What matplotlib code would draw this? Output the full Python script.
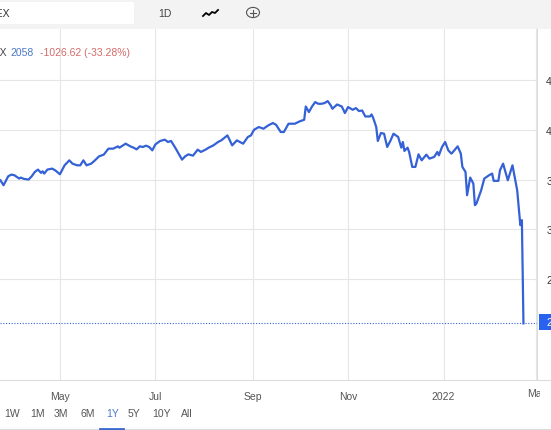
import numpy as np
import pandas as pd
import matplotlib
matplotlib.use("Agg")
import matplotlib.pyplot as plt
import matplotlib.dates as mdates
from matplotlib.patches import Rectangle, Circle
from matplotlib.lines import Line2D
from matplotlib.transforms import Bbox, blended_transform_factory

plt.rcParams['font.family'] = ['Liberation Sans', 'DejaVu Sans']

# index values (IMOEX, 1Y view)
dates = ["2021-03-24", "2021-03-26", "2021-03-29", "2021-03-31", "2021-04-02", "2021-04-05",
         "2021-04-06", "2021-04-08", "2021-04-11", "2021-04-13", "2021-04-15", "2021-04-17",
         "2021-04-19", "2021-04-20", "2021-04-21", "2021-04-23", "2021-04-26", "2021-04-28",
         "2021-05-01", "2021-05-04", "2021-05-07", "2021-05-09", "2021-05-12", "2021-05-14",
         "2021-05-16", "2021-05-18", "2021-05-21", "2021-05-23", "2021-05-26", "2021-05-29",
         "2021-06-01", "2021-06-04", "2021-06-07", "2021-06-08", "2021-06-12", "2021-06-15",
         "2021-06-17", "2021-06-19", "2021-06-21", "2021-06-23", "2021-06-25", "2021-06-27",
         "2021-06-29", "2021-07-01", "2021-07-04", "2021-07-07", "2021-07-09", "2021-07-11",
         "2021-07-14", "2021-07-18", "2021-07-20", "2021-07-22", "2021-07-25", "2021-07-28",
         "2021-07-30", "2021-08-02", "2021-08-04", "2021-08-07", "2021-08-10", "2021-08-12",
         "2021-08-16", "2021-08-19", "2021-08-22", "2021-08-26", "2021-08-29", "2021-08-31",
         "2021-09-02", "2021-09-05", "2021-09-08", "2021-09-11", "2021-09-14", "2021-09-16",
         "2021-09-19", "2021-09-21", "2021-09-24", "2021-09-28", "2021-10-01", "2021-10-04",
         "2021-10-05", "2021-10-07", "2021-10-09", "2021-10-11", "2021-10-13", "2021-10-15",
         "2021-10-17", "2021-10-19", "2021-10-21", "2021-10-22", "2021-10-25", "2021-10-28",
         "2021-10-30", "2021-11-01", "2021-11-04", "2021-11-06", "2021-11-08", "2021-11-10",
         "2021-11-12", "2021-11-15", "2021-11-16", "2021-11-17", "2021-11-19", "2021-11-20",
         "2021-11-22", "2021-11-24", "2021-11-26", "2021-11-28", "2021-11-30", "2021-12-03",
         "2021-12-05", "2021-12-06", "2021-12-07", "2021-12-09", "2021-12-10", "2021-12-12",
         "2021-12-14", "2021-12-16", "2021-12-18", "2021-12-21", "2021-12-23", "2021-12-26",
         "2021-12-28", "2021-12-29", "2021-12-31", "2022-01-02", "2022-01-04", "2022-01-06",
         "2022-01-07", "2022-01-10", "2022-01-12", "2022-01-13", "2022-01-15", "2022-01-16",
         "2022-01-18", "2022-01-20", "2022-01-21", "2022-01-22", "2022-01-25", "2022-01-27",
         "2022-01-30", "2022-02-01", "2022-02-02", "2022-02-05", "2022-02-06", "2022-02-08",
         "2022-02-11", "2022-02-14", "2022-02-17", "2022-02-19", "2022-02-20", "2022-02-21"]
values = [3493, 3443, 3533, 3550, 3543, 3510,
          3520, 3507, 3500, 3533, 3577, 3600,
          3567, 3583, 3560, 3600, 3610, 3593,
          3553, 3643, 3693, 3660, 3643, 3643,
          3693, 3643, 3660, 3687, 3733, 3750,
          3810, 3810, 3833, 3820, 3860, 3833,
          3820, 3803, 3833, 3827, 3840, 3827,
          3793, 3853, 3887, 3900, 3877, 3887,
          3810, 3700, 3733, 3753, 3740, 3800,
          3777, 3800, 3820, 3843, 3877, 3893,
          3943, 3843, 3893, 3860, 3927, 3943,
          4000, 4027, 4010, 4043, 4067, 4050,
          3977, 3977, 4060, 4060, 4083, 4100,
          4233, 4177, 4233, 4277, 4260, 4260,
          4267, 4287, 4243, 4210, 4253, 4233,
          4167, 4227, 4200, 4217, 4187, 4193,
          4133, 4133, 4153, 4120, 4027, 3887,
          3967, 3960, 3827, 3887, 3960, 3927,
          3820, 3877, 3787, 3820, 3777, 3627,
          3627, 3753, 3693, 3750, 3710, 3727,
          3777, 3743, 3827, 3877, 3793, 3760,
          3777, 3833, 3760, 3627, 3577, 3343,
          3520, 3460, 3243, 3260, 3393, 3510,
          3543, 3560, 3487, 3487, 3593, 3660,
          3493, 3643, 3393, 3043, 3093, 2058]

ticker = "IMOEX"
last_value = "2058"
change_text = "-1026.62 (-33.28%)"
y_ticks = [2500, 3000, 3500, 4000, 4500]
month_ticks = ["2021-05-01", "2021-07-01", "2021-09-01", "2021-11-01", "2022-01-01", "2022-03-01"]
month_labels = ["May", "Jul", "Sep", "Nov", "2022", "Mar"]
ranges = ["1W", "1M", "3M", "6M", "1Y", "5Y", "10Y", "All"]

W, H = 551, 431
LINE = '#3461d6'
GRID = '#e6e6e6'
TXT = '#555555'


def fx(x):
    return x / W


def fy(y):
    return 1 - y / H


fig = plt.figure(figsize=(W / 100, H / 100), dpi=100)
fig.patch.set_facecolor('white')

ax = fig.add_axes([0, fy(381), fx(536.5), (381 - 30) / H])
d = pd.to_datetime(dates)
ax.plot(d, values, color=LINE, lw=1.6, solid_joinstyle='round', zorder=3)
ax.axhline(values[-1], color=LINE, lw=0.8, ls=(0, (1, 1.5)), zorder=2)

ax.set_xlim(pd.Timestamp("2021-03-23 18:00"), pd.Timestamp("2022-03-01 08:00"))
ax.set_ylim(1490, 5010)
ax.set_xticks(pd.to_datetime(month_ticks))
ax.set_xticklabels(month_labels[:-1] + [""])
ax.set_yticks(y_ticks)
ax.set_yticklabels([str(v) for v in y_ticks])
ax.yaxis.tick_right()
ax.tick_params(axis='both', length=0, labelsize=7.5, labelcolor=TXT)
ax.tick_params(axis='x', pad=8)
ax.tick_params(axis='y', pad=7, labelcolor='#333333')
for lab in ax.get_yticklabels():
    lab.set_horizontalalignment('left')
ax.grid(True, color=GRID, lw=0.8)
for s in ['top', 'left', 'bottom']:
    ax.spines[s].set_visible(False)
ax.spines['right'].set_color('#dcdcdc')
ax.spines['right'].set_linewidth(0.8)

# Mar label sits under the price scale edge, partly hidden
tr = blended_transform_factory(ax.transData, fig.transFigure)
mar = fig.text(mdates.date2num(pd.Timestamp(month_ticks[-1])), fy(394), month_labels[-1],
               transform=tr, ha='center', va='center', fontsize=7.5, color=TXT)
mar.set_clip_on(True)
mar.set_clip_box(Bbox([[0, 0], [540, H]]))

# toolbar strip
fig.add_artist(Rectangle((0, fy(30)), 1, 30 / H, transform=fig.transFigure,
                         facecolor='#f3f3f3', edgecolor='none', zorder=0))
fig.add_artist(Rectangle((fx(-2), fy(25)), fx(136), 22 / H, transform=fig.transFigure,
                         facecolor='white', edgecolor='none', zorder=1))
fig.text(fx(9.5), fy(14), ticker, ha='right', va='center', fontsize=7.5, color='#333333')
fig.text(fx(165), fy(14), "1D", ha='center', va='center', fontsize=7.5, color='#444444')
icon_x = [203, 206, 209, 212, 215, 218]
icon_y = [17, 14, 16, 13, 14, 11]
fig.add_artist(Line2D([fx(v) for v in icon_x], [fy(v) for v in icon_y],
                      transform=fig.transFigure, color='black', lw=1.3))
fig.add_artist(Circle((fx(253), fy(13.5)), 6.5 / W, transform=fig.transFigure,
                      facecolor='none', edgecolor='#555555', lw=0.8))
fig.add_artist(Line2D([fx(250), fx(256)], [fy(13.5), fy(13.5)], transform=fig.transFigure,
                      color='#555555', lw=0.8))
fig.add_artist(Line2D([fx(253), fx(253)], [fy(10.5), fy(16.5)], transform=fig.transFigure,
                      color='#555555', lw=0.8))

# quote line
fig.text(fx(6.5), fy(53), ticker, ha='right', va='center', fontsize=7.5, color='#444444')
fig.text(fx(10), fy(53), last_value, ha='left', va='center', fontsize=7.5, color='#4a78c8')
fig.text(fx(40), fy(53), change_text, ha='left', va='center', fontsize=7.5, color='#d46a6a')

# last price tag
fig.add_artist(Rectangle((fx(539), fy(331)), fx(20), 16 / H, transform=fig.transFigure,
                         facecolor='#2a62f0', edgecolor='none'))
fig.text(fx(546), fy(323), last_value, ha='left', va='center', fontsize=7.5, color='white')

# x axis line and range selector
fig.add_artist(Line2D([0, 1], [fy(381), fy(381)], transform=fig.transFigure,
                      color='#dcdcdc', lw=0.8))
range_x = [12, 38, 61, 88, 113, 134, 162, 187]
for lbl, xx in zip(ranges, range_x):
    fig.text(fx(xx), fy(414), lbl, ha='center', va='center', fontsize=7.5,
             color='#4a78c8' if lbl == "1Y" else TXT)
fig.add_artist(Line2D([0, 1], [fy(430), fy(430)], transform=fig.transFigure,
                      color='#dddddd', lw=0.8))
fig.add_artist(Line2D([fx(100), fx(123)], [fy(429.5), fy(429.5)], transform=fig.transFigure,
                      color='#3a6ad0', lw=2))

fig.savefig("out.png", dpi=100)
